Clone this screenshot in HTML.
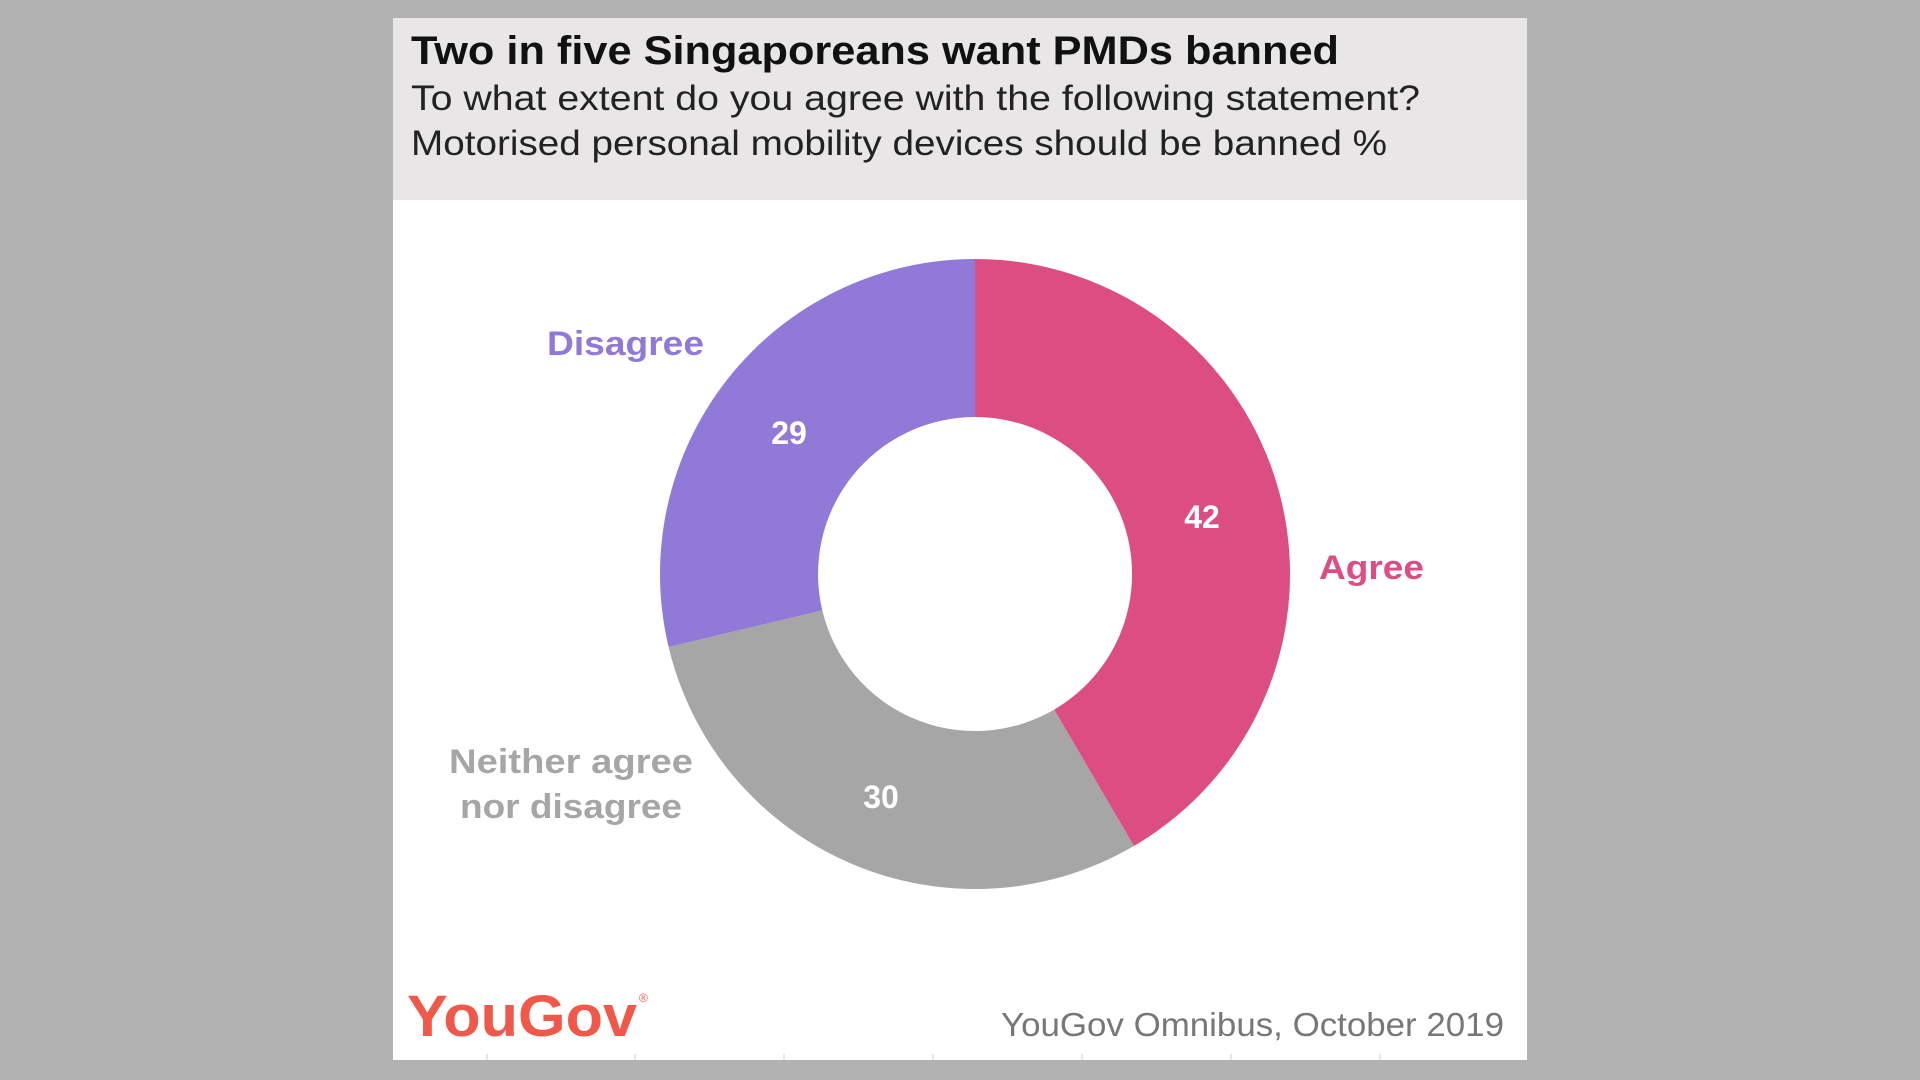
<!DOCTYPE html>
<html><head><meta charset="utf-8"><style>
html,body{margin:0;padding:0;background:#b3b2b3;}
svg{display:block;}
</style></head><body>
<svg width="1920" height="1080" viewBox="0 0 1920 1080" xmlns="http://www.w3.org/2000/svg" font-family="'Liberation Sans', sans-serif">
<rect x="0" y="0" width="1920" height="1080" fill="#b3b2b3"/>
<rect x="393" y="18" width="1134" height="1042" fill="#ffffff"/>
<rect x="393" y="18" width="1134" height="182" fill="#e8e6e7"/>
<text x="411" y="64" font-size="40" font-weight="bold" fill="#111" textLength="928" lengthAdjust="spacingAndGlyphs">Two in five Singaporeans want PMDs banned</text>
<text x="411" y="110" font-size="35" fill="#222" textLength="1009" lengthAdjust="spacingAndGlyphs">To what extent do you agree with the following statement?</text>
<text x="411" y="155" font-size="35" fill="#222" textLength="976" lengthAdjust="spacingAndGlyphs">Motorised personal mobility devices should be banned %</text>

<path d="M975,259 A315,315 0 0 1 1133.9,846 L1054.2,709.6 A157,157 0 0 0 975,417 Z" fill="#dc4d82"/>
<path d="M1133.9,846 A315,315 0 0 1 668.6,647 L822.3,610.4 A157,157 0 0 0 1054.2,709.6 Z" fill="#a6a6a6"/>
<path d="M668.6,647 A315,315 0 0 1 975,259 L975,417 A157,157 0 0 0 822.3,610.4 Z" fill="#9179d8"/>

<g font-size="32" font-weight="bold" fill="#fff" text-anchor="middle">
<text x="1202" y="528">42</text>
<text x="789" y="444">29</text>
<text x="881" y="808">30</text>
</g>
<g font-size="34" font-weight="bold">
<text x="1319" y="579" fill="#dc4d82" textLength="105" lengthAdjust="spacingAndGlyphs">Agree</text>
<text x="547" y="355" fill="#9179d8" textLength="157" lengthAdjust="spacingAndGlyphs">Disagree</text>
<text x="449" y="773" fill="#a6a6a6" textLength="244" lengthAdjust="spacingAndGlyphs">Neither agree</text>
<text x="460" y="818" fill="#a6a6a6" textLength="222" lengthAdjust="spacingAndGlyphs">nor disagree</text>
</g>
<text x="407" y="1036" font-size="58" font-weight="bold" fill="#f0584a" textLength="230" lengthAdjust="spacingAndGlyphs">YouGov</text>
<text x="639" y="1002" font-size="12" fill="#f0584a">®</text>
<text x="1504" y="1036" font-size="33" fill="#777" text-anchor="end" textLength="503" lengthAdjust="spacingAndGlyphs">YouGov Omnibus, October 2019</text>
<g stroke="#cccccc" stroke-width="1">
<line x1="487" y1="1054" x2="487" y2="1060"/><line x1="635" y1="1054" x2="635" y2="1060"/>
<line x1="784" y1="1054" x2="784" y2="1060"/><line x1="933" y1="1054" x2="933" y2="1060"/>
<line x1="1082" y1="1054" x2="1082" y2="1060"/><line x1="1231" y1="1054" x2="1231" y2="1060"/>
<line x1="1380" y1="1054" x2="1380" y2="1060"/>
</g>
</svg>
</body></html>
